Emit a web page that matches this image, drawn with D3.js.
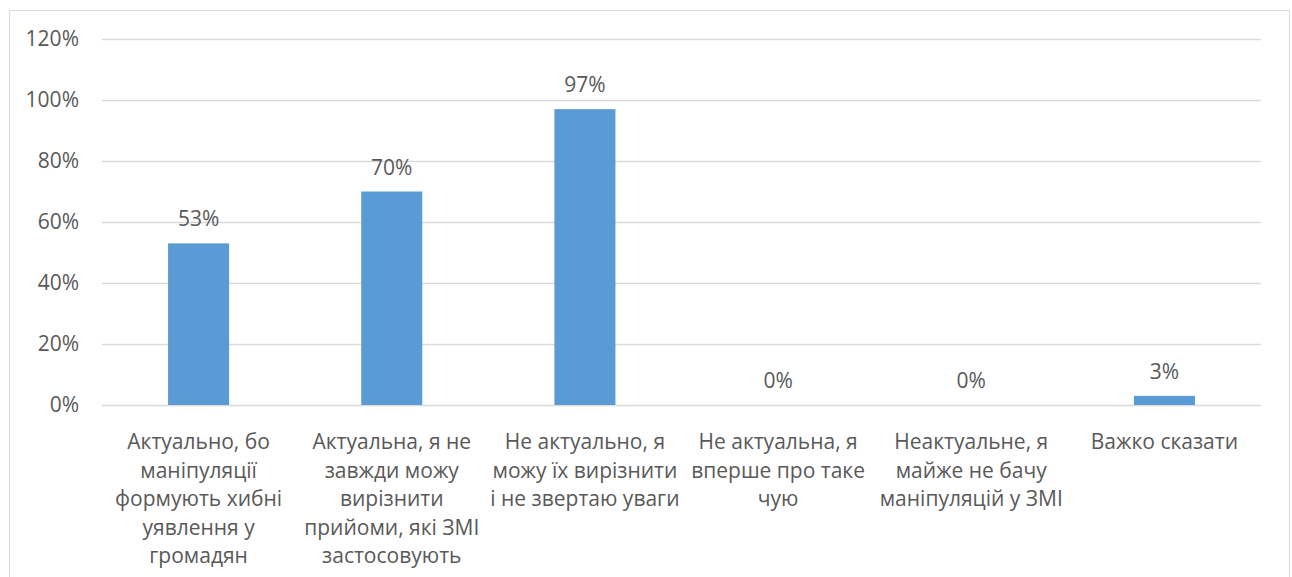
<!DOCTYPE html>
<html>
<head>
<meta charset="utf-8">
<script src="https://cdn.jsdelivr.net/npm/d3@7"></script>
<style>
  body { margin: 0; background: #fff; }
  text { font-family: "Open Sans", "Noto Sans", sans-serif; fill: #595959; }
</style>
</head>
<body>
<div id="chart"></div>
<script>
// categories (wrapped as in the original), values in percent
var categories = [
  ["Актуально, бо", "маніпуляції", "формують хибні", "уявлення у", "громадян"],
  ["Актуальна, я не", "завжди можу", "вирізнити", "прийоми, які ЗМІ", "застосовують"],
  ["Не актуально, я", "можу їх вирізнити", "і не звертаю уваги"],
  ["Не актуальна, я", "вперше про таке", "чую"],
  ["Неактуальне, я", "майже не бачу", "маніпуляцій у ЗМІ"],
  ["Важко сказати"]
];
var values = [53, 70, 97, 0, 0, 3];
var yTicks = [0, 20, 40, 60, 80, 100, 120];

var svgWidth = 1292, svgHeight = 577;
var margin = {top: 39, right: 31, bottom: 172, left: 102},
    width = svgWidth - margin.left - margin.right,
    height = svgHeight - margin.top - margin.bottom;

var svg = d3.select("#chart").append("svg")
    .attr("width", svgWidth)
    .attr("height", svgHeight);

// chart frame (bottom edge falls outside the picture)
svg.append("rect")
    .attr("x", 9.5).attr("y", 10.5)
    .attr("width", 1280).attr("height", 600)
    .attr("fill", "none")
    .attr("stroke", "#d9d9d9");

var plot = svg.append("g")
    .attr("transform", "translate(" + margin.left + "," + margin.top + ")");

var x = d3.scaleBand()
    .domain(d3.range(categories.length))
    .range([0, width])
    .padding(0);

var y = d3.scaleLinear()
    .domain([0, 120])
    .range([height, 0]);

var yAxis = d3.axisLeft(y)
    .tickValues(yTicks)
    .tickSize(-width)
    .tickPadding(23)
    .tickFormat(function(d) { return d + "%"; });

plot.append("g")
    .attr("class", "yAxis")
    .call(yAxis)
    .call(function(g) {
      g.select(".domain").remove();
      g.selectAll(".tick line").attr("stroke", "#d9d9d9").attr("stroke-width", 1.5);
      g.selectAll(".tick text").style("font-size", "21px").attr("fill", "#595959");
    });

var barW = x.bandwidth() * 0.316;

plot.selectAll("rect.bar")
    .data(values)
    .enter().append("rect")
    .attr("class", "bar")
    .attr("x", function(d, i) { return x(i) + x.bandwidth() / 2 - barW / 2; })
    .attr("y", function(d) { return y(d); })
    .attr("width", barW)
    .attr("height", function(d) { return height - y(d); })
    .attr("fill", "#5b9bd5");

// value labels
plot.selectAll("text.val")
    .data(values)
    .enter().append("text")
    .attr("class", "val")
    .attr("x", function(d, i) { return x(i) + x.bandwidth() / 2; })
    .attr("y", function(d) { return y(d) - 17; })
    .attr("text-anchor", "middle")
    .style("font-size", "21px")
    .text(function(d) { return d + "%"; });

// category labels
var catG = plot.selectAll("g.cat")
    .data(categories)
    .enter().append("g")
    .attr("class", "cat")
    .attr("transform", function(d, i) {
      return "translate(" + (x(i) + x.bandwidth() / 2) + "," + (height + 44) + ")";
    });

catG.selectAll("text")
    .data(function(d) { return d; })
    .enter().append("text")
    .attr("y", function(d, i) { return i * 28.5; })
    .attr("text-anchor", "middle")
    .style("font-size", "21px")
    .text(function(d) { return d; });
</script>
</body>
</html>
